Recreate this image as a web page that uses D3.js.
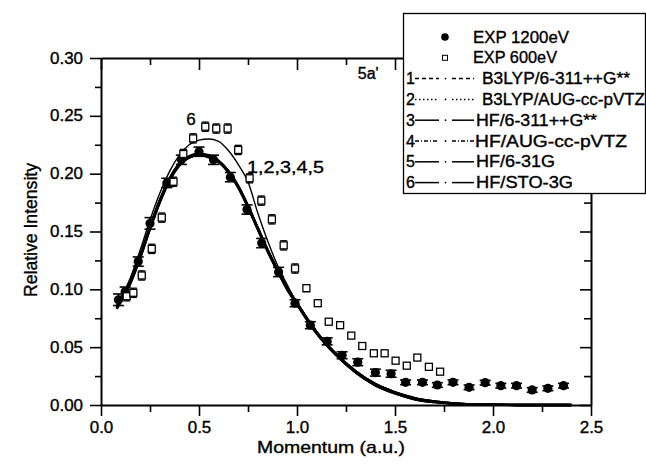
<!DOCTYPE html>
<html>
<head>
<meta charset="utf-8">
<script src="https://cdnjs.cloudflare.com/ajax/libs/d3/7.8.5/d3.min.js"></script>
<style>
  body { margin: 0; background: #fff; }
  svg text { font-family: Arial, "Liberation Sans", sans-serif; fill: #000; stroke: #000; stroke-width: 0.35px; }
</style>
</head>
<body>
<div id="image"></div>
<script>
// experimental points, 1200 eV (filled circles)
var exp1200X = [0.089, 0.123, 0.19, 0.25, 0.336, 0.41, 0.50, 0.574, 0.66, 0.745, 0.82, 0.906, 0.99,
                1.068, 1.154, 1.23, 1.31, 1.40, 1.48, 1.554, 1.64, 1.716, 1.796, 1.878, 1.96, 2.04, 2.12, 2.20, 2.28, 2.36];
var exp1200Y = [0.091, 0.098, 0.124, 0.157, 0.192, 0.212, 0.219, 0.212, 0.197, 0.169, 0.140, 0.115, 0.088,
                0.069, 0.055, 0.043, 0.037, 0.028, 0.027, 0.0196, 0.0196, 0.0173, 0.0196, 0.0153, 0.0193, 0.0167, 0.0167, 0.013, 0.0144, 0.0167];
var exp1200Err = [0.005, 0.004, 0.004, 0.005, 0.004, 0.004, 0.004, 0.004, 0.004, 0.004, 0.004, 0.004, 0.003,
                  0.003, 0.003, 0.003, 0.003, 0.003, 0.003, 0.002, 0.002, 0.002, 0.002, 0.002, 0.002, 0.002, 0.002, 0.002, 0.002, 0.002];

// experimental points, 600 eV (open squares)
var exp600X = [0.131, 0.165, 0.208, 0.259, 0.31, 0.37, 0.42, 0.47, 0.532, 0.588, 0.646, 0.70, 0.758, 0.818,
               0.872, 0.932, 0.99, 1.048, 1.106, 1.162, 1.22, 1.277, 1.333, 1.392, 1.447, 1.503, 1.56, 1.614, 1.673, 1.73];
var exp600Y = [0.094, 0.097, 0.112, 0.135, 0.162, 0.193, 0.217, 0.2305, 0.2406, 0.239, 0.239, 0.2205, 0.196, 0.1767,
               0.1605, 0.138, 0.118, 0.101, 0.088, 0.072, 0.069, 0.060, 0.051, 0.0447, 0.0447, 0.0383, 0.034, 0.041, 0.033, 0.0288];
var exp600Err = [0.004, 0.004, 0.004, 0.004, 0.004, 0.004, 0.004, 0.004, 0.004, 0.004, 0.004, 0.004, 0.004, 0.004,
                 0.004, 0.004, 0.004, 0.003, 0.002, 0.002, 0.002, 0.002, 0.002, 0.002, 0.002, 0.002, 0.002, 0.002, 0.002, 0.002];

// theory curves (momentum grid + one array per calculation)
var theoryX = [0.08, 0.15, 0.2, 0.25, 0.3, 0.35, 0.4, 0.45, 0.5, 0.55, 0.6, 0.65, 0.7, 0.75, 0.8, 0.85, 0.9, 0.95, 1.0,
               1.1, 1.2, 1.3, 1.4, 1.5, 1.6, 1.7, 1.8, 1.9, 2.0, 2.2, 2.4];
var curve1 = [0.084, 0.106, 0.128, 0.153, 0.176, 0.195, 0.208, 0.214, 0.216, 0.215, 0.211, 0.202, 0.189, 0.172, 0.153, 0.134, 0.117, 0.101, 0.088,
              0.063, 0.044, 0.029, 0.018, 0.011, 0.006, 0.003, 0.0013, 0.0005, 0.0002, 0, 0];
var curve2 = [0.084, 0.106, 0.128, 0.153, 0.176, 0.195, 0.208, 0.215, 0.217, 0.216, 0.211, 0.202, 0.189, 0.172, 0.153, 0.134, 0.117, 0.101, 0.088,
              0.063, 0.044, 0.029, 0.018, 0.011, 0.006, 0.003, 0.0013, 0.0005, 0.0002, 0, 0];
var curve3 = [0.085, 0.107, 0.129, 0.154, 0.177, 0.195, 0.208, 0.214, 0.216, 0.214, 0.210, 0.201, 0.188, 0.171, 0.152, 0.133, 0.116, 0.100, 0.087,
              0.062, 0.043, 0.028, 0.017, 0.010, 0.005, 0.0025, 0.0012, 0.0005, 0.0002, 0, 0];
var curve4 = [0.085, 0.107, 0.129, 0.154, 0.177, 0.196, 0.209, 0.215, 0.217, 0.215, 0.211, 0.202, 0.189, 0.171, 0.152, 0.133, 0.116, 0.100, 0.087,
              0.062, 0.043, 0.028, 0.017, 0.010, 0.005, 0.0025, 0.0012, 0.0005, 0.0002, 0, 0];
var curve5 = [0.083, 0.105, 0.127, 0.152, 0.175, 0.194, 0.207, 0.214, 0.216, 0.215, 0.210, 0.202, 0.189, 0.172, 0.153, 0.134, 0.117, 0.101, 0.088,
              0.063, 0.044, 0.029, 0.018, 0.011, 0.006, 0.003, 0.0013, 0.0005, 0.0002, 0, 0];
var curve6 = [0.086, 0.110, 0.134, 0.160, 0.183, 0.202, 0.216, 0.225, 0.229, 0.230, 0.228, 0.220, 0.208, 0.193, 0.166, 0.142, 0.121, 0.104, 0.088,
              0.062, 0.043, 0.028, 0.017, 0.010, 0.005, 0.0025, 0.0012, 0.0005, 0.0002, 0, 0];

var curveLabels = ["B3LYP/6-311++G**", "B3LYP/AUG-cc-pVTZ", "HF/6-311++G**", "HF/AUG-cc-pVTZ", "HF/6-31G", "HF/STO-3G"];
var xTicks = [0.0, 0.5, 1.0, 1.5, 2.0, 2.5];
var yTicks = [0.00, 0.05, 0.10, 0.15, 0.20, 0.25, 0.30];

var width = 646, height = 466;
var margin = {top: 58, right: 55, bottom: 61, left: 101};

var svg = d3.select("#image").append("svg")
    .attr("width", width)
    .attr("height", height);

var x = d3.scaleLinear().domain([0, 2.5]).range([margin.left, width - margin.right]);
var y = d3.scaleLinear().domain([0, 0.30]).range([height - margin.bottom, margin.top]);

var xMinor = [0.25, 0.75, 1.25, 1.75, 2.25];
var yMinor = [0.025, 0.075, 0.125, 0.175, 0.225, 0.275];

// the scanned figure uses a slightly wider face than Arial: stretch texts a bit
function widen(sel, k) {
    sel.each(function() {
        var w = this.getComputedTextLength();
        d3.select(this).attr("textLength", w * k).attr("lengthAdjust", "spacingAndGlyphs");
    });
}

function styleAxis(g) {
    g.selectAll("path").attr("stroke", "#000").attr("stroke-width", 2);
    g.selectAll("line").attr("stroke", "#000").attr("stroke-width", 1.6);
    g.selectAll("text").style("font-size", "16px");
}

// bottom axis
var gx = svg.append("g")
    .attr("transform", "translate(0," + y(0) + ")")
    .call(d3.axisBottom(x).tickValues(xTicks).tickFormat(d3.format(".1f")).tickSize(11).tickSizeOuter(0).tickPadding(6))
    .call(styleAxis);
svg.append("g")
    .attr("transform", "translate(0," + y(0) + ")")
    .call(d3.axisBottom(x).tickValues(xMinor).tickFormat("").tickSize(7))
    .call(styleAxis).select(".domain").remove();

// top axis, ticks inward
svg.append("g")
    .attr("transform", "translate(0," + y(0.30) + ")")
    .call(d3.axisBottom(x).tickValues(xTicks).tickFormat("").tickSize(12).tickSizeOuter(0))
    .call(styleAxis);
svg.append("g")
    .attr("transform", "translate(0," + y(0.30) + ")")
    .call(d3.axisBottom(x).tickValues(xMinor).tickFormat("").tickSize(7))
    .call(styleAxis).select(".domain").remove();

// left axis
var gy = svg.append("g")
    .attr("transform", "translate(" + x(0) + ",0)")
    .call(d3.axisLeft(y).tickValues(yTicks).tickFormat(d3.format(".2f")).tickSize(11).tickSizeOuter(0).tickPadding(7))
    .call(styleAxis);
svg.append("g")
    .attr("transform", "translate(" + x(0) + ",0)")
    .call(d3.axisLeft(y).tickValues(yMinor).tickFormat("").tickSize(6))
    .call(styleAxis).select(".domain").remove();

widen(gx.selectAll("text"), 1.06);
widen(gy.selectAll("text"), 1.06);

// right axis, ticks inward
svg.append("g")
    .attr("transform", "translate(" + x(2.5) + ",0)")
    .call(d3.axisLeft(y).tickValues(yTicks).tickFormat("").tickSize(11).tickSizeOuter(0))
    .call(styleAxis);
svg.append("g")
    .attr("transform", "translate(" + x(2.5) + ",0)")
    .call(d3.axisLeft(y).tickValues(yMinor).tickFormat("").tickSize(7))
    .call(styleAxis).select(".domain").remove();

// axis titles
svg.append("text")
    .attr("x", 331)
    .attr("y", 453)
    .style("text-anchor", "middle")
    .style("font-size", "17px")
    .attr("textLength", 148).attr("lengthAdjust", "spacingAndGlyphs")
    .text("Momentum (a.u.)");

svg.append("text")
    .attr("transform", "translate(37,230) rotate(-90)")
    .style("text-anchor", "middle")
    .style("font-size", "17.5px")
    .attr("textLength", 134).attr("lengthAdjust", "spacingAndGlyphs")
    .text("Relative Intensity");

// theory curves
var line = d3.line()
    .x(function(d) { return x(d[0]); })
    .y(function(d) { return y(d[1]); })
    .curve(d3.curveMonotoneX);

var curves = [curve1, curve2, curve3, curve4, curve5, curve6];
curves.forEach(function(c, i) {
    var pts = theoryX.map(function(v, k) { return [v, c[k]]; });
    svg.append("path")
        .datum(pts)
        .attr("d", line)
        .attr("fill", "none")
        .attr("stroke", "#000")
        .attr("stroke-width", i == 5 ? 1.4 : 2.4);
});

// 1200 eV points with error bars
var data1200 = exp1200X.map(function(v, i) { return {x: v, y: exp1200Y[i], e: exp1200Err[i]}; });
var g1 = svg.selectAll(".p1200").data(data1200).enter().append("g").attr("class", "p1200");
g1.append("line")
    .attr("x1", function(d) { return x(d.x); }).attr("x2", function(d) { return x(d.x); })
    .attr("y1", function(d) { return y(d.y - d.e); }).attr("y2", function(d) { return y(d.y + d.e); })
    .attr("stroke", "#000").attr("stroke-width", 1.6);
[-1, 1].forEach(function(s) {
    g1.append("line")
        .attr("x1", function(d) { return x(d.x) - 5.5; }).attr("x2", function(d) { return x(d.x) + 5.5; })
        .attr("y1", function(d) { return y(d.y + s * d.e); }).attr("y2", function(d) { return y(d.y + s * d.e); })
        .attr("stroke", "#000").attr("stroke-width", 1.6);
});
g1.append("circle")
    .attr("cx", function(d) { return x(d.x); })
    .attr("cy", function(d) { return y(d.y); })
    .attr("r", 4.6)
    .attr("fill", "#000");

// 600 eV points with error bars
var data600 = exp600X.map(function(v, i) { return {x: v, y: exp600Y[i], e: exp600Err[i]}; });
var g2 = svg.selectAll(".p600").data(data600).enter().append("g").attr("class", "p600");
g2.append("line")
    .attr("x1", function(d) { return x(d.x); }).attr("x2", function(d) { return x(d.x); })
    .attr("y1", function(d) { return y(d.y - d.e); }).attr("y2", function(d) { return y(d.y + d.e); })
    .attr("stroke", "#000").attr("stroke-width", 1.3);
[-1, 1].forEach(function(s) {
    g2.append("line")
        .attr("x1", function(d) { return x(d.x) - 3.5; }).attr("x2", function(d) { return x(d.x) + 3.5; })
        .attr("y1", function(d) { return y(d.y + s * d.e); }).attr("y2", function(d) { return y(d.y + s * d.e); })
        .attr("stroke", "#000").attr("stroke-width", 1.3);
});
g2.append("rect")
    .attr("x", function(d) { return x(d.x) - 3.5; })
    .attr("y", function(d) { return y(d.y) - 3.5; })
    .attr("width", 7).attr("height", 7)
    .attr("fill", "#fff").attr("stroke", "#000").attr("stroke-width", 1.3);

// annotations
svg.append("text").attr("x", x(0.435)).attr("y", y(0.242)).style("font-size", "17px").text("6");
svg.append("text").attr("x", x(0.745)).attr("y", y(0.2005)).style("font-size", "16.5px")
    .attr("textLength", 77).attr("lengthAdjust", "spacingAndGlyphs").text("1,2,3,4,5");
svg.append("text").attr("x", x(1.31)).attr("y", y(0.282)).style("font-size", "16px").text("5a'");

// legend
var lg = svg.append("g");
lg.append("rect")
    .attr("x", 403.5).attr("y", 13.5).attr("width", 242).attr("height", 180)
    .attr("fill", "#fff").attr("stroke", "#000").attr("stroke-width", 1.3);

var rowY = function(i) { return 37 + i * 20.8; };

lg.append("circle").attr("cx", 445).attr("cy", rowY(0)).attr("r", 3.8).attr("fill", "#000");
lg.append("text").attr("x", 473).attr("y", rowY(0)).attr("dy", "0.35em").style("font-size", "16px")
    .attr("textLength", 96).attr("lengthAdjust", "spacingAndGlyphs").text("EXP 1200eV");
lg.append("rect").attr("x", 442.5).attr("y", rowY(1) - 2.5).attr("width", 5).attr("height", 5)
    .attr("fill", "#fff").attr("stroke", "#000").attr("stroke-width", 1);
lg.append("text").attr("x", 473).attr("y", rowY(1)).attr("dy", "0.35em").style("font-size", "16px")
    .attr("textLength", 84).attr("lengthAdjust", "spacingAndGlyphs").text("EXP 600eV");

var dashes = ["4,3", "1.5,2.5", null, "4,2,1,2", null, null];
var labelX = [482, 482, 476, 475, 476, 476];
var labelW = [148, 163, 121, 152, 79, 97];
curveLabels.forEach(function(lab, i) {
    var cy = rowY(i + 2);
    lg.append("text").attr("x", 406).attr("y", cy).attr("dy", "0.35em").style("font-size", "16px").text(String(i + 1));
    [[415, 439], [452, 474]].forEach(function(seg) {
        lg.append("line")
            .attr("x1", seg[0]).attr("x2", seg[1]).attr("y1", cy).attr("y2", cy)
            .attr("stroke", "#000").attr("stroke-width", 1.5)
            .attr("stroke-dasharray", dashes[i]);
    });
    lg.append("circle").attr("cx", 445.5).attr("cy", cy).attr("r", 0.9).attr("fill", "#000");
    lg.append("text").attr("x", labelX[i]).attr("y", cy).attr("dy", "0.35em")
        .style("font-size", "16px")
        .attr("textLength", labelW[i]).attr("lengthAdjust", "spacingAndGlyphs")
        .text(lab);
});
</script>
</body>
</html>
